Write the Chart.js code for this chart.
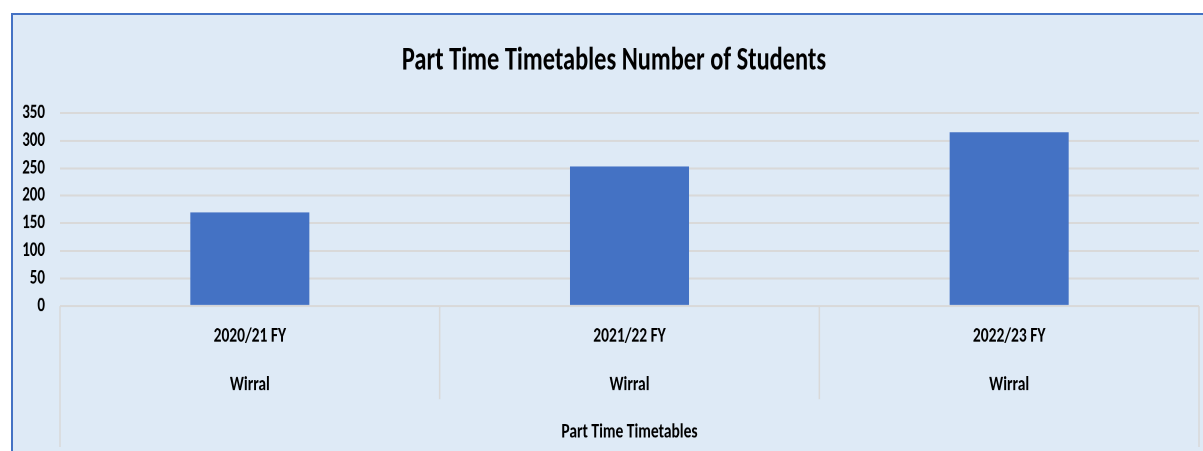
<!DOCTYPE html>
<html>
<head>
<meta charset="utf-8">
<script src="https://cdn.jsdelivr.net/npm/chart.js@4.4.1/dist/chart.umd.min.js"></script>
<style>
  html, body { margin: 0; padding: 0; width: 1203px; height: 451px; overflow: hidden; background: #ffffff; }
  #frame { position: absolute; left: 11px; top: 13px; right: -20px; bottom: -20px;
           background: #DEEAF6; border-left: 2px solid #4472C4; border-top: 2px solid #4472C4; }
  #wrap { position: absolute; left: 0; top: 0; transform-origin: 0 0; transform: scaleY(1.3503); }
</style>
</head>
<body>
<div id="frame"></div>
<div id="wrap"><canvas id="chart"></canvas></div>
<script>
// ---- data ----
const years = ['2020/21 FY', '2021/22 FY', '2022/23 FY'];
const regions = ['Wirral', 'Wirral', 'Wirral'];
const groupLabel = 'Part Time Timetables';
const students = [170, 253, 315];
const chartTitle = 'Part Time Timetables Number of Students';
const yTicks = [0, 50, 100, 150, 200, 250, 300, 350];

const FONT = 'Carlito, Calibri, Lato, sans-serif';
const labels = years.map((y, i) => [y, '', regions[i]]);

const canvas = document.getElementById('chart');
canvas.width = 1228;
canvas.height = 334;

// separators of the multi-level category axis
const separatorPlugin = {
  id: 'separators',
  afterDraw(chart) {
    const x = chart.scales.x;
    const area = chart.chartArea;
    const ctx = chart.ctx;
    const n = x.ticks.length;
    const step = (area.right - area.left) / n;
    ctx.save();
    ctx.strokeStyle = '#D9D9D9';
    ctx.lineWidth = 1.5;
    for (let i = 0; i <= n; i++) {
      const px = area.left + i * step;
      const outer = (i === 0 || i === n);
      const yEnd = outer ? chart.height - 3 : area.bottom + 69;
      ctx.beginPath();
      ctx.moveTo(px, area.bottom);
      ctx.lineTo(px, yEnd);
      ctx.stroke();
    }
    ctx.restore();
  }
};

new Chart(canvas, {
  type: 'bar',
  data: {
    labels: labels,
    datasets: [{
      data: students,
      backgroundColor: '#4472C4',
      borderWidth: 0,
      barPercentage: 0.3135,
      categoryPercentage: 1.0
    }]
  },
  options: {
    responsive: false,
    animation: false,
    devicePixelRatio: 2,
    layout: { padding: { left: 0, right: 0, top: 0, bottom: 2.7 } },
    plugins: {
      legend: { display: false },
      tooltip: { enabled: false },
      title: {
        display: true,
        text: chartTitle,
        color: '#000000',
        font: { family: FONT, size: 24.4, weight: 'bold', lineHeight: 1.2 },
        padding: { top: 31, bottom: 23.4 }
      }
    },
    scales: {
      x: {
        grid: { display: false },
        border: { display: false },
        ticks: {
          color: '#000000',
          padding: 5.8,
          maxRotation: 0,
          autoSkip: false,
          font: { family: FONT, size: 15.5, weight: 'bold', lineHeight: 1.148 }
        },
        title: {
          display: true,
          text: groupLabel,
          color: '#000000',
          font: { family: FONT, size: 15.5, weight: 'bold', lineHeight: 1.2 },
          padding: { top: 11.1, bottom: 2 }
        }
      },
      y: {
        min: 0,
        max: 350,
        afterFit(scale) { scale.width = 60; },
        afterBuildTicks(scale) { scale.ticks = yTicks.map(v => ({ value: v })); },
        grid: { color: '#D9D9D9', lineWidth: 1.5, drawTicks: false },
        border: { display: false },
        ticks: {
          color: '#000000',
          padding: 15,
          autoSkip: false,
          font: { family: FONT, size: 15, weight: 'bold' }
        }
      },
      // empty spacer on the right, so that the title is centred on the whole chart object
      yRight: {
        position: 'right',
        min: 0,
        max: 350,
        afterFit(scale) { scale.width = 29; },
        grid: { display: false },
        border: { display: false },
        ticks: { display: false }
      }
    }
  },
  plugins: [separatorPlugin]
});
</script>
</body>
</html>
